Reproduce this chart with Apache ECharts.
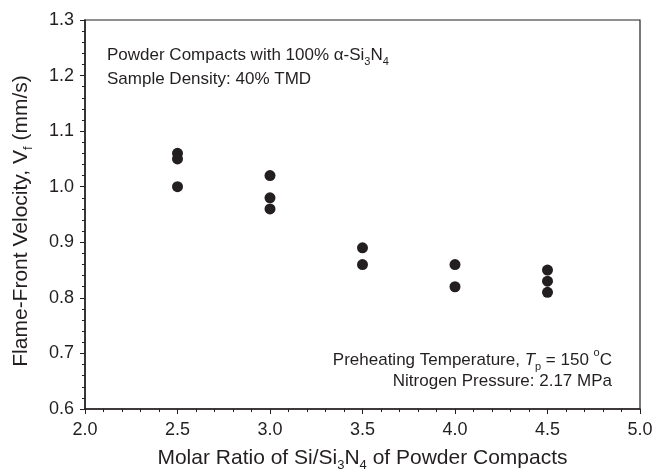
<!DOCTYPE html>
<html><head><meta charset="utf-8">
<script src="https://cdn.jsdelivr.net/npm/echarts@6/dist/echarts.min.js"></script>
<style>html,body{margin:0;padding:0;background:#fff}#c{width:657px;height:470px}</style>
</head><body><div id="c"></div>
<script>
const ratioValues = [2.5, 2.5, 2.5, 3.0, 3.0, 3.0, 3.5, 3.5, 4.0, 4.0, 4.5, 4.5, 4.5];
const velocityValues = [1.06, 1.05, 1.00, 1.02, 0.98, 0.96, 0.89, 0.86, 0.86, 0.82, 0.85, 0.83, 0.81];
const xTicks = [2.0, 2.5, 3.0, 3.5, 4.0, 4.5, 5.0];
const yTicks = [0.6, 0.7, 0.8, 0.9, 1.0, 1.1, 1.2, 1.3];

const FONT = 'Liberation Sans, Arial, sans-serif';
const TXT = '#231f20';
const chart = echarts.init(document.getElementById('c'));
const pts = ratioValues.map((x, i) => [x, velocityValues[i]]);
const titleRich = {
  n: {fontFamily: FONT, fontSize: 21, color: TXT, lineHeight: 24, verticalAlign: 'bottom'},
  s: {fontFamily: FONT, fontSize: 13, color: TXT, lineHeight: 24, verticalAlign: 'bottom', padding: [0, 0, -3, 0]}
};
const annRich = {
  n: {fontFamily: FONT, fontSize: 17, fill: TXT, lineHeight: 20, verticalAlign: 'bottom'},
  i: {fontFamily: FONT, fontSize: 17, fill: TXT, fontStyle: 'italic', lineHeight: 20, verticalAlign: 'bottom'},
  s: {fontFamily: FONT, fontSize: 11, fill: TXT, lineHeight: 20, verticalAlign: 'bottom', padding: [0, 0, -3, 0]},
  u: {fontFamily: FONT, fontSize: 11, fill: TXT, lineHeight: 20, verticalAlign: 'top', padding: [-2, 0, 0, 0]}
};
chart.setOption({
  animation: false,
  backgroundColor: '#fff',
  grid: {left: 85, right: 17, top: 20, bottom: 61, outerBoundsMode: 'none', containLabel: false,
         show: true, borderColor: '#231f20', borderWidth: 1.2, backgroundColor: 'transparent'},
  xAxis: {
    type: 'value', min: xTicks[0], max: xTicks[xTicks.length - 1], interval: 0.5,
    axisLine: {show: true, lineStyle: {color: '#231f20', width: 1.5}},
    axisTick: {show: true, length: 5, lineStyle: {color: '#231f20', width: 1}},
    minorTick: {show: true, splitNumber: 5, length: 3, lineStyle: {color: '#231f20', width: 1}},
    splitLine: {show: false},
    axisLabel: {fontFamily: FONT, fontSize: 18, color: TXT, margin: 12, formatter: v => v.toFixed(1)},
    name: '{n|Molar Ratio of Si/Si}{s|3}{n|N}{s|4}{n| of Powder Compacts}',
    nameLocation: 'middle', nameGap: 36,
    nameTextStyle: {fontFamily: FONT, fontSize: 21, color: TXT, rich: titleRich}
  },
  yAxis: {
    type: 'value', min: yTicks[0], max: yTicks[yTicks.length - 1], interval: 0.1,
    axisLine: {show: true, lineStyle: {color: '#231f20', width: 1.5}},
    axisTick: {show: true, length: 5, lineStyle: {color: '#231f20', width: 1}},
    minorTick: {show: true, splitNumber: 5, length: 3, lineStyle: {color: '#231f20', width: 1}},
    splitLine: {show: false},
    axisLabel: {fontFamily: FONT, fontSize: 18, color: TXT, margin: 11, formatter: v => v.toFixed(1)},
    name: '{n|Flame-Front Velocity, V}{s|f}{n| (mm/s)}',
    nameLocation: 'middle', nameGap: 53,
    nameTextStyle: {fontFamily: FONT, fontSize: 21, color: TXT, rich: titleRich, padding: [0, 13, 0, 0]}
  },
  series: [{
    type: 'scatter', data: pts, symbol: 'circle', symbolSize: 11,
    itemStyle: {color: '#231f20', opacity: 1}
  }],
  graphic: [
    {type: 'text', left: 107, top: 47, style: {
      text: '{n|Powder Compacts with 100% α-Si}{s|3}{n|N}{s|4}', fontFamily: FONT, fontSize: 17, fill: TXT, rich: annRich}},
    {type: 'text', left: 107, top: 71, style: {text: 'Sample Density: 40% TMD', fontFamily: FONT, fontSize: 17, fill: TXT}},
    {type: 'text', right: 45, top: 347, style: {
      text: '{n|Preheating Temperature, }{i|T}{s|p}{n| = 150 }{u|o}{n|C}', fontFamily: FONT, fontSize: 17, fill: TXT, align: 'right', rich: annRich}},
    {type: 'text', right: 45, top: 373, style: {text: 'Nitrogen Pressure: 2.17 MPa', fontFamily: FONT, fontSize: 17, fill: TXT, align: 'right'}}
  ]
});
</script></body></html>
